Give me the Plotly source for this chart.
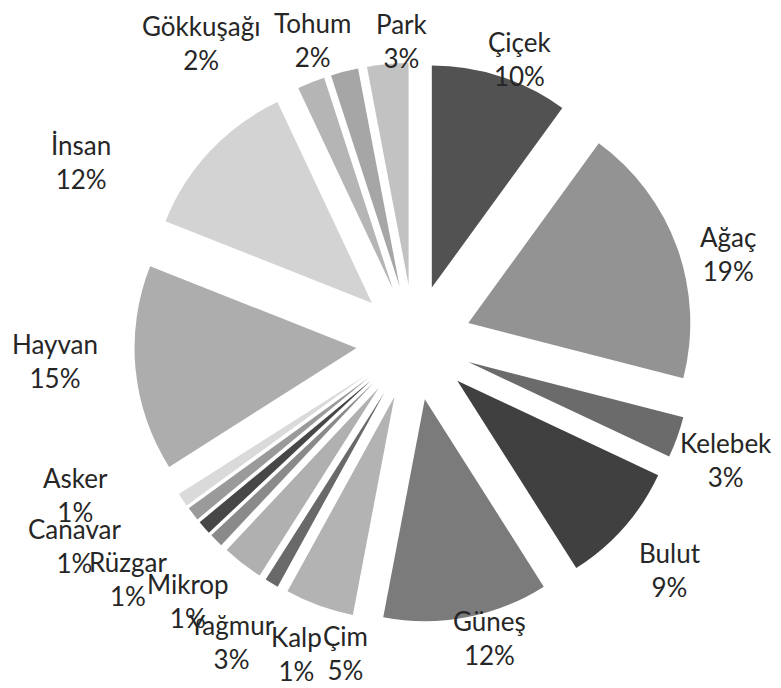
import math
import plotly.graph_objects as go

labels = ["Çiçek", "Ağaç", "Kelebek", "Bulut", "Güneş", "Çim", "Kalp", "Yağmur",
          "Mikrop", "Rüzgar", "Canavar", "Asker", "Hayvan", "İnsan", "Gökkuşağı",
          "Tohum", "Park"]
values = [10, 19, 3, 9, 12, 5, 1, 3, 1, 1, 1, 1, 15, 12, 2, 2, 3]
colors = ["#525252", "#939393", "#6b6b6b", "#404040", "#7b7b7b", "#b3b3b3",
          "#696969", "#b0b0b0", "#8a8a8a", "#474747", "#9a9a9a", "#dadada",
          "#adadad", "#d3d3d3", "#b5b5b5", "#a6a6a6", "#c2c2c2"]

# label layout (Excel-like "best fit" placement): angle nudge (deg) and distance (px)
label_nudge = [2.5, 4.1, 0.8, 0.2, -3.6, -7.4, -10, -6.5, -3.8, 1.8, 6.8, 10,
               2.4, -14.7, -13.8, -4.1, 3.2]
label_dist = [303, 326, 333, 342, 305, 318, 333, 350, 343, 371, 396, 371,
              359, 379, 368, 319, 302]

W, H = 781, 688
PULL = 0.26
R = 222                      # pie radius in px
CX, CY = 406, 334.5          # pie centre in figure px
half = R * (1 + PULL)
dom_x = [(CX - half) / W, (CX + half) / W]
dom_y = [1 - (CY + half) / H, 1 - (CY - half) / H]

fig = go.Figure(go.Pie(
    labels=labels,
    values=values,
    sort=False,
    direction="clockwise",
    rotation=0,
    pull=PULL,
    marker=dict(colors=colors, line=dict(width=0)),
    textinfo="none",
    showlegend=False,
    hoverinfo="label+percent",
    domain=dict(x=dom_x, y=dom_y),
))

total = sum(values)
cum = 0
annotations = []
for lab, v, nud, dist in zip(labels, values, label_nudge, label_dist):
    mid = (cum + v / 2) / total * 360
    cum += v
    ang = math.radians(mid + nud)
    px = CX + dist * math.sin(ang)
    py = CY - dist * math.cos(ang)
    pct = round(v / total * 100)
    annotations.append(dict(
        x=px / W, y=1 - py / H, xref="paper", yref="paper",
        text=f"{lab}<br>{pct}%", showarrow=False,
        xanchor="center", yanchor="middle", align="center",
        font=dict(family="Lato, Open Sans, sans-serif", size=26, color="#262626"),
    ))

fig.update_layout(
    width=W, height=H,
    margin=dict(l=0, r=0, t=0, b=0),
    paper_bgcolor="white",
    plot_bgcolor="white",
    annotations=annotations,
)

fig.write_html("out.html")
